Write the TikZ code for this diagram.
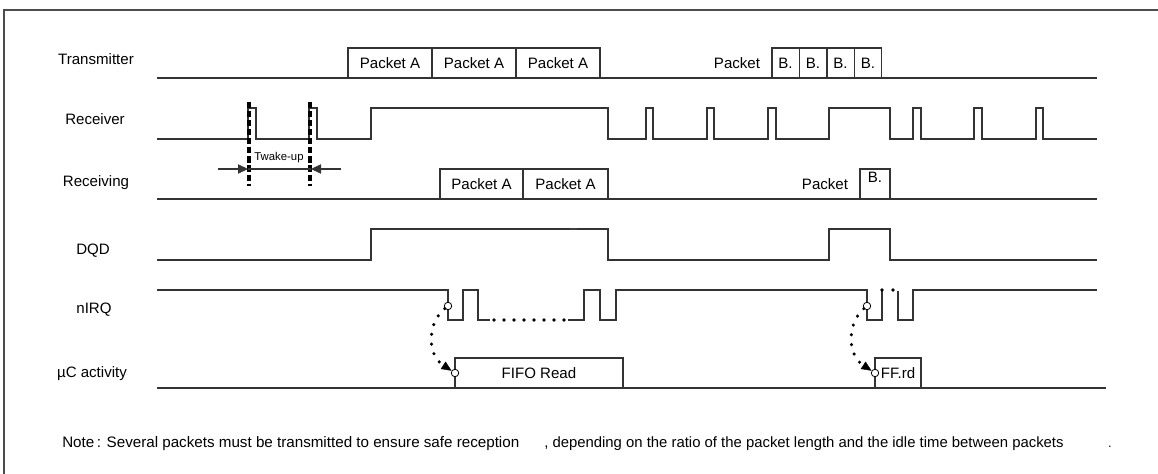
\documentclass[tikz,border=0pt]{standalone}
\usepackage{fontspec}
\setmainfont{Liberation Sans}
\usetikzlibrary{arrows.meta}
\begin{document}
\begin{tikzpicture}[x=0.75pt,y=-0.75pt,
  sig/.style={draw=black!80, line width=0.9pt, line join=miter},
  pbox/.style={draw=black!80, line width=0.9pt, inner sep=0pt, minimum height=22.5pt, font=\fontsize{11.3}{13}\selectfont},
  lbl/.style={font=\fontsize{11.3}{13}\selectfont, inner sep=0pt},
  small/.style={font=\fontsize{8.5}{10}\selectfont, inner sep=0pt},
  notefont/.style={font=\fontsize{9.5}{11}\selectfont, inner sep=0pt},
  ring/.style={circle, draw=black, fill=white, inner sep=0pt, minimum size=5.6pt, line width=0.6pt},
  dotline/.style={line width=2.6pt, line cap=round, dash pattern=on 0pt off 7.4pt},
  wdash/.style={line width=2.4pt, dash pattern=on 4.6pt off 2.2pt},
  tip/.style={-{Triangle[length=7.5pt,width=7pt,line width=0.3pt]}},
  dottip/.style={-{Triangle[length=7.5pt,width=6.5pt,line width=0.3pt]}},
  dotfill/.style={fill=black}
]
\useasboundingbox (0,0) rectangle (1158,474);
% frame
\draw[draw=black!70, line width=0.8pt] (4,474) -- (4,10) -- (1158,10);

% row labels
\node[lbl, anchor=base] (lt) at (96,65) {Transmitter};
\node[lbl, anchor=base] (lr) at (95,125) {Receiver};
\node[lbl, anchor=base] (lg) at (96,187) {Receiving};
\node[lbl, anchor=base] (ld) at (93,255) {DQD};
\node[lbl, anchor=base] (ln) at (94,314) {nIRQ};
\node[lbl, anchor=base] (lu) at (92,378) {µC activity};

% Transmitter
\draw[sig] (157,78) -- (1097,78);
\node[pbox, minimum width=63pt] (ta1) at (390,63) {Packet A};
\node[pbox, minimum width=63pt] (ta2) at (474,63) {Packet A};
\node[pbox, minimum width=63pt] (ta3) at (558,63) {Packet A};
\node[lbl] (tpb) at (737,63) {Packet};
\node[pbox, minimum width=20.4pt] (tb1) at (785.5,63) {B.};
\node[pbox, minimum width=20.8pt] (tb2) at (813,63) {B.};
\node[pbox, minimum width=20.4pt] (tb3) at (840.5,63) {B.};
\node[pbox, minimum width=20.8pt] (tb4) at (868,63) {B.};

% Receiver
\draw[sig] (157,139) -- (248,139) -- (248,108) -- (256,108) -- (256,139)
  -- (309,139) -- (309,108) -- (317,108) -- (317,139) -- (371,139)
  -- (371,108) -- (608,108) -- (608,139) -- (646,139) -- (646,108)
  -- (653,108) -- (653,139) -- (707,139) -- (707,108) -- (714,108)
  -- (714,139) -- (768,139) -- (768,108) -- (776,108) -- (776,139)
  -- (829,139) -- (829,108) -- (890,108) -- (890,139) -- (913,139)
  -- (913,108) -- (921,108) -- (921,139) -- (974,139) -- (974,108)
  -- (982,108) -- (982,139) -- (1036,139) -- (1036,108) -- (1043,108)
  -- (1043,139) -- (1097,139);

% wake-up markers
\coordinate (d1t) at (249,102); \coordinate (d1b) at (249,186);
\coordinate (d2t) at (310,102); \coordinate (d2b) at (310,186);
\draw[wdash] (d1t) -- (d1b);
\draw[wdash] (d2t) -- (d2b);
\coordinate (a1) at (218,169); \coordinate (a2) at (248,169);
\coordinate (a3) at (311,169); \coordinate (a4) at (341,169);
\draw[sig, tip] (a1) -- (a2);
\draw[sig] (a2) -- (a3);
\draw[sig, tip] (a4) -- (a3);
\node[small] (tw) at (279,158) {Twake-up};

% Receiving
\draw[sig] (157,199) -- (1097,199);
\node[pbox, minimum width=62.25pt] (ga1) at (481.5,184) {Packet A};
\node[pbox, minimum width=63.75pt] (ga2) at (565.5,184) {Packet A};
\node[lbl] (gpb) at (825,184.5) {Packet};
\node[pbox, minimum width=22.5pt] (gb1) at (875,184) {};
\node[lbl] (gbt) at (875,177) {B.};

% DQD
\draw[sig] (157,260) -- (371,260) -- (371,229) -- (608,229) -- (608,260)
  -- (829,260) -- (829,229) -- (890,229) -- (890,260) -- (1097,260);
\draw[black!75, line width=1.6pt] (570,229) -- (577,229);

% nIRQ
\draw[sig] (157,290) -- (448,290) -- (448,320) -- (463,320) -- (463,290)
  -- (478,290) -- (478,320) -- (490,320);
\foreach \xx in {494,504,...,564} { \fill[dotfill] (\xx,320) circle (1.35pt); }
\draw[sig] (568,320) -- (584,320) -- (584,290) -- (600,290) -- (600,320)
  -- (616,320) -- (616,290) -- (867,290) -- (867,320) -- (882,320) -- (882,291);
\fill[dotfill] (882,290) circle (1.35pt);
\fill[dotfill] (893,290) circle (1.35pt);
\draw[sig] (898,291) -- (898,320) -- (913,320) -- (913,290) -- (1097,290);

% uC activity
\draw[sig] (157,388) -- (1106,388);
\node[pbox, minimum width=126pt] (fr) at (539,373) {FIFO Read};
\node[pbox, minimum width=34.5pt] (ff) at (898,373) {FF.rd};

% interrupt rings and dotted arrows
\node[ring] (c1) at (448,306) {};
\node[ring] (c2) at (455,373) {};
\node[ring] (c3) at (867,306) {};
\node[ring] (c4) at (875,373) {};
\draw[dotline, dottip] (c1) .. controls (428,322) and (426,354) .. (c2);
\draw[dotline, dottip] (c3) .. controls (848,322) and (846,354) .. (c4);

% note
\node[notefont, anchor=base west] (n1) at (62,447) {\resizebox{342.75pt}{!}{Note\,: Several packets must be transmitted to ensure safe reception}};
\node[notefont, anchor=base west] (n2) at (544,447) {\resizebox{389.5pt}{!}{, depending on the ratio of the packet length and the idle time between packets}};
\node[notefont, anchor=base] (n3) at (1110,447) {.};
\end{tikzpicture}
\end{document}
